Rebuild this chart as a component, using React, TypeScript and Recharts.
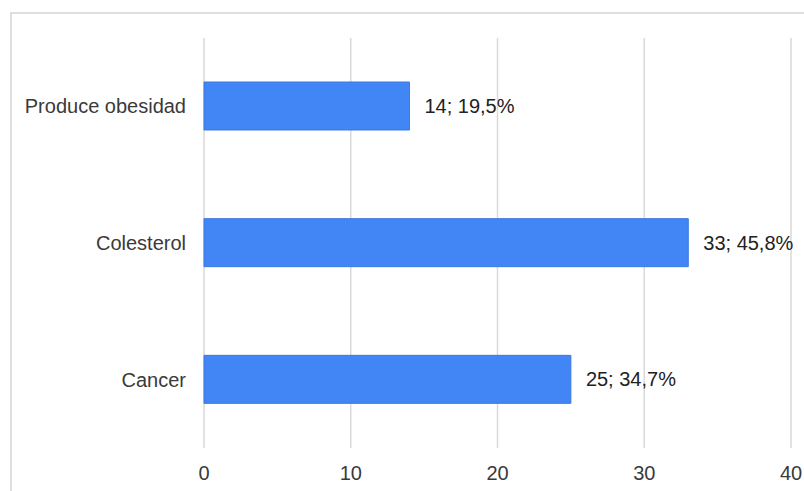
import React from 'react';
import { BarChart, Bar, XAxis, YAxis, CartesianGrid, LabelList } from 'recharts';

const categories = ['Produce obesidad', 'Colesterol', 'Cancer'];
const counts = [14, 33, 25];
const percents = [19.5, 45.8, 34.7];
const xTicks = [0, 10, 20, 30, 40];

const data = categories.map((name, i) => ({
  name,
  count: counts[i],
  label: `${counts[i]}; ${percents[i].toFixed(1).replace('.', ',')}%`
}));

const font = '"Liberation Sans", Arial, sans-serif';

const App: React.FC = () => {
  return (
    <div style={{ position: 'absolute', left: 0, top: 0, width: 804, height: 491, overflow: 'hidden', background: '#fff' }}>
      <div
        style={{
          position: 'absolute',
          left: 10,
          top: 12,
          width: 820,
          height: 500,
          borderTop: '2px solid #dedede',
          borderLeft: '2px solid #dedede'
        }}
      />
      <div style={{ position: 'absolute', left: 0, top: 0 }}>
        <BarChart
          width={804}
          height={491}
          data={data}
          layout="vertical"
          margin={{ top: 38, right: 13, bottom: 0, left: 0 }}
        >
          <CartesianGrid horizontal={false} stroke="#d9d9d9" strokeWidth={1.5} />
          <XAxis
            type="number"
            domain={[0, 40]}
            ticks={xTicks}
            axisLine={false}
            tickLine={false}
            tickMargin={12}
            height={43}
            tick={{ fill: '#3a3a3a', fontSize: 20, fontFamily: font }}
          />
          <YAxis
            type="category"
            dataKey="name"
            width={204}
            axisLine={false}
            tickLine={false}
            tickMargin={12}
            tick={{ fill: '#3a3a3a', fontSize: 20, fontFamily: font }}
          />
          <Bar dataKey="count" fill="#4285f4" stroke="#3b78e0" strokeWidth={1} barSize={48} isAnimationActive={false}>
            <LabelList
              dataKey="label"
              position="right"
              offset={15}
              fill="#222"
              fontSize={20}
              fontFamily={font}
            />
          </Bar>
        </BarChart>
      </div>
    </div>
  );
};

export default App;
